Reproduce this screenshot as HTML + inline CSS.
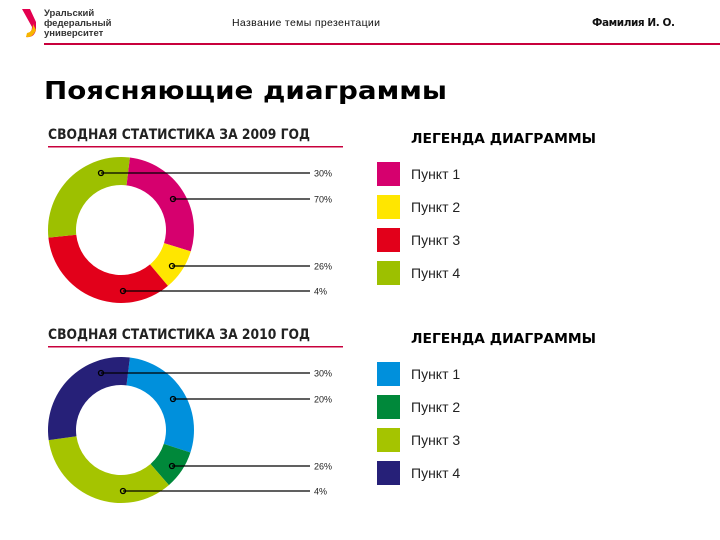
<!DOCTYPE html>
<html><head><meta charset="utf-8"><style>
body{margin:0;background:#fff;width:720px;height:540px;overflow:hidden}
svg{display:block}
text{font-family:"Liberation Sans","DejaVu Sans",sans-serif}
.v{font-family:"DejaVu Sans","Liberation Sans",sans-serif}
</style></head><body>
<svg id="s" width="720" height="540">
  <g>
    <path d="M22 9 L30 9 L36 22 L36 30 Q34 38 26 37 L28 33 Q32 32 32 27 Z" fill="#e3004f"/>
    <path d="M26 37 Q32 38 35 32 L36 30 L33 24 Q33 32 27 33 Z" fill="#f7b500"/>
    <text x="44" y="16" font-size="9.5" font-weight="bold" fill="#333">Уральский</text>
    <text x="44" y="26" font-size="9.5" font-weight="bold" fill="#333">федеральный</text>
    <text x="44" y="36" font-size="9.5" font-weight="bold" fill="#333">университет</text>
  </g>
  <text x="232" y="26" font-size="10.5" fill="#111" textLength="148">Название темы презентации</text>
  <text class="v" x="592" y="26" font-size="10.5" font-weight="bold" fill="#111" textLength="83">Фамилия И. О.</text>
  <rect x="44" y="43" width="676" height="2" fill="#c8003c"/>
  <text class="v" x="44" y="99" font-size="25" font-weight="bold" fill="#000" textLength="403" lengthAdjust="spacingAndGlyphs">Поясняющие диаграммы</text>
  <g id="charts"></g>
</svg>
<script>
const categories=["Пункт 1","Пункт 2","Пункт 3","Пункт 4"];
const values2009=[100,33,124,103];
const values2010=[101,31,123,105];
const labels2009=["30%","70%","26%","4%"];
const labels2010=["30%","20%","26%","4%"];
const colors2009=["#d6006e","#ffe600","#e2001a","#9dc000"];
const colors2010=["#0090dc","#00883a","#a5c400","#262078"];
const NS="http://www.w3.org/2000/svg";
const root=document.getElementById('charts');
function mk(t,a,p){const e=document.createElementNS(NS,t);for(const k in a)e.setAttribute(k,a[k]);(p||root).appendChild(e);return e;}
function pt(cx,cy,r,deg){const a=(deg-90)*Math.PI/180;return [cx+r*Math.cos(a),cy+r*Math.sin(a)];}
function draw(year,vals,labels,colors,oy){
  const g=mk('g',{});
  
  
  const t=mk('text',{x:48,y:oy+139,'font-size':14,'font-weight':'bold',fill:'#222',class:'v',textLength:262,lengthAdjust:'spacingAndGlyphs'},g);
  t.textContent='СВОДНАЯ СТАТИСТИКА ЗА '+year+' ГОД';
  
  
  const u=mk('rect',{x:48,y:oy+146,width:295,height:1.5,fill:'#c8003c'},g);
  
  
  const cx=121,cy=oy+230,R=73,r=45;
  const total=vals.reduce((a,b)=>a+b,0);
  let start=7;
  vals.forEach((v,i)=>{
    const sweep=v/total*360,end=start+sweep,lg=sweep>180?1:0;
    const [x1,y1]=pt(cx,cy,R,start),[x2,y2]=pt(cx,cy,R,end),[x3,y3]=pt(cx,cy,r,end),[x4,y4]=pt(cx,cy,r,start);
    const p=mk('path',{d:`M${x1} ${y1}A${R} ${R} 0 ${lg} 1 ${x2} ${y2}L${x3} ${y3}A${r} ${r} 0 ${lg} 0 ${x4} ${y4}Z`,fill:colors[i]},g);
    
    
    start=end;
  });
  const lys=[oy+173,oy+199,oy+266,oy+291];
  const dxs=[101,173,172,123];
  labels.forEach((lab,i)=>{
    const dx=dxs[i],dy=lys[i];
    const l=mk('line',{x1:dx,y1:dy,x2:310,y2:dy,stroke:'#000','stroke-width':1.2},g);
    
    
    const c=mk('circle',{cx:dx,cy:dy,r:2.5,fill:'none',stroke:'#000','stroke-width':1.3},g);
    
    
    const tx=mk('text',{x:314,y:dy+3.5,'font-size':9,fill:'#222'},g);
    tx.textContent=lab;
    
    
  });
  const lt=mk('text',{x:411,y:oy+143,'font-size':13,'font-weight':'bold',fill:'#000',class:'v',textLength:185,lengthAdjust:'spacingAndGlyphs'},g);
  lt.textContent='ЛЕГЕНДА ДИАГРАММЫ';
  
  
  categories.forEach((c,i)=>{
    const y=oy+162+i*33;
    const sq=mk('rect',{x:377,y:y,width:23,height:24,fill:colors[i]},g);
    
    
    const tx=mk('text',{x:411,y:y+17,'font-size':14,fill:'#222'},g);
    tx.textContent=c;
    
    
  });
}
draw('2009',values2009,labels2009,colors2009,0);
draw('2010',values2010,labels2010,colors2010,200);
</script>
</body></html>
